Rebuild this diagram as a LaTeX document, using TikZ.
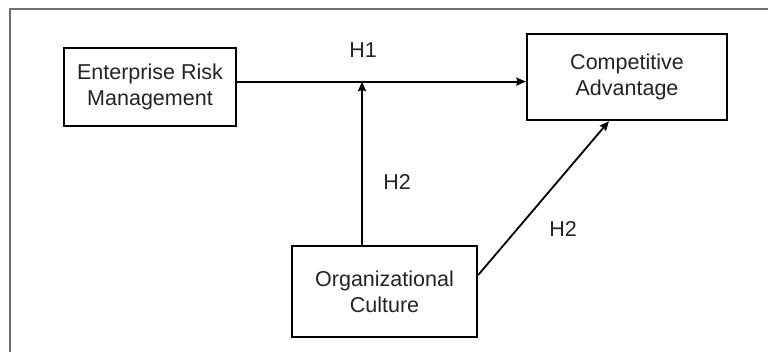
\documentclass[tikz,border=0pt]{standalone}
\usepackage{fontspec}
\setmainfont{Liberation Sans}
\usetikzlibrary{arrows.meta}
\definecolor{framegray}{RGB}{110,110,110}
\definecolor{textgray}{RGB}{35,35,35}
\tikzstyle{construct} = [rectangle, draw=black, line width=1.6pt, text centered, text=textgray, align=center, font=\fontsize{15.3}{18.5}\selectfont]
\tikzstyle{hyp} = [text=textgray, font=\fontsize{15.3}{18.5}\selectfont]
\tikzstyle{arrow} = [line width=1.3pt,-{Stealth[length=0.24cm,width=0.2cm,inset=0.03cm]}]

\begin{document}
\begin{tikzpicture}
  \useasboundingbox (0,0) rectangle (19.2,8.8);
  \draw [framegray, line width=1.5pt] (0.25,0) -- (0.25,8.575) -- (19.2,8.575);

  \node (erm) [construct, minimum width=4.3cm, minimum height=1.95cm] at (3.75,6.625) {Enterprise Risk\\Management};
  \node (ca) [construct, minimum width=5cm, minimum height=2.15cm] at (15.675,6.875) {Competitive\\Advantage};
  \node (oc) [construct, minimum width=4.625cm, minimum height=2.275cm] at (9.6125,1.5125) {Organizational\\Culture};
  \coordinate (join) at (9.05,6.76);

  \draw [arrow] (erm.east |- join) -- (ca.west |- join);
  \draw [arrow] (join |- oc.north) -- (join);
  \draw [arrow] ([yshift=0.41cm]oc.east) -- ([xshift=-0.45cm]ca.south);

  \node (h1) [hyp] at (9.075,7.55) {H1};
  \node (h2a) [hyp] at (9.925,4.25) {H2};
  \node (h2b) [hyp] at (14.075,3.075) {H2};
\end{tikzpicture}
\end{document}
